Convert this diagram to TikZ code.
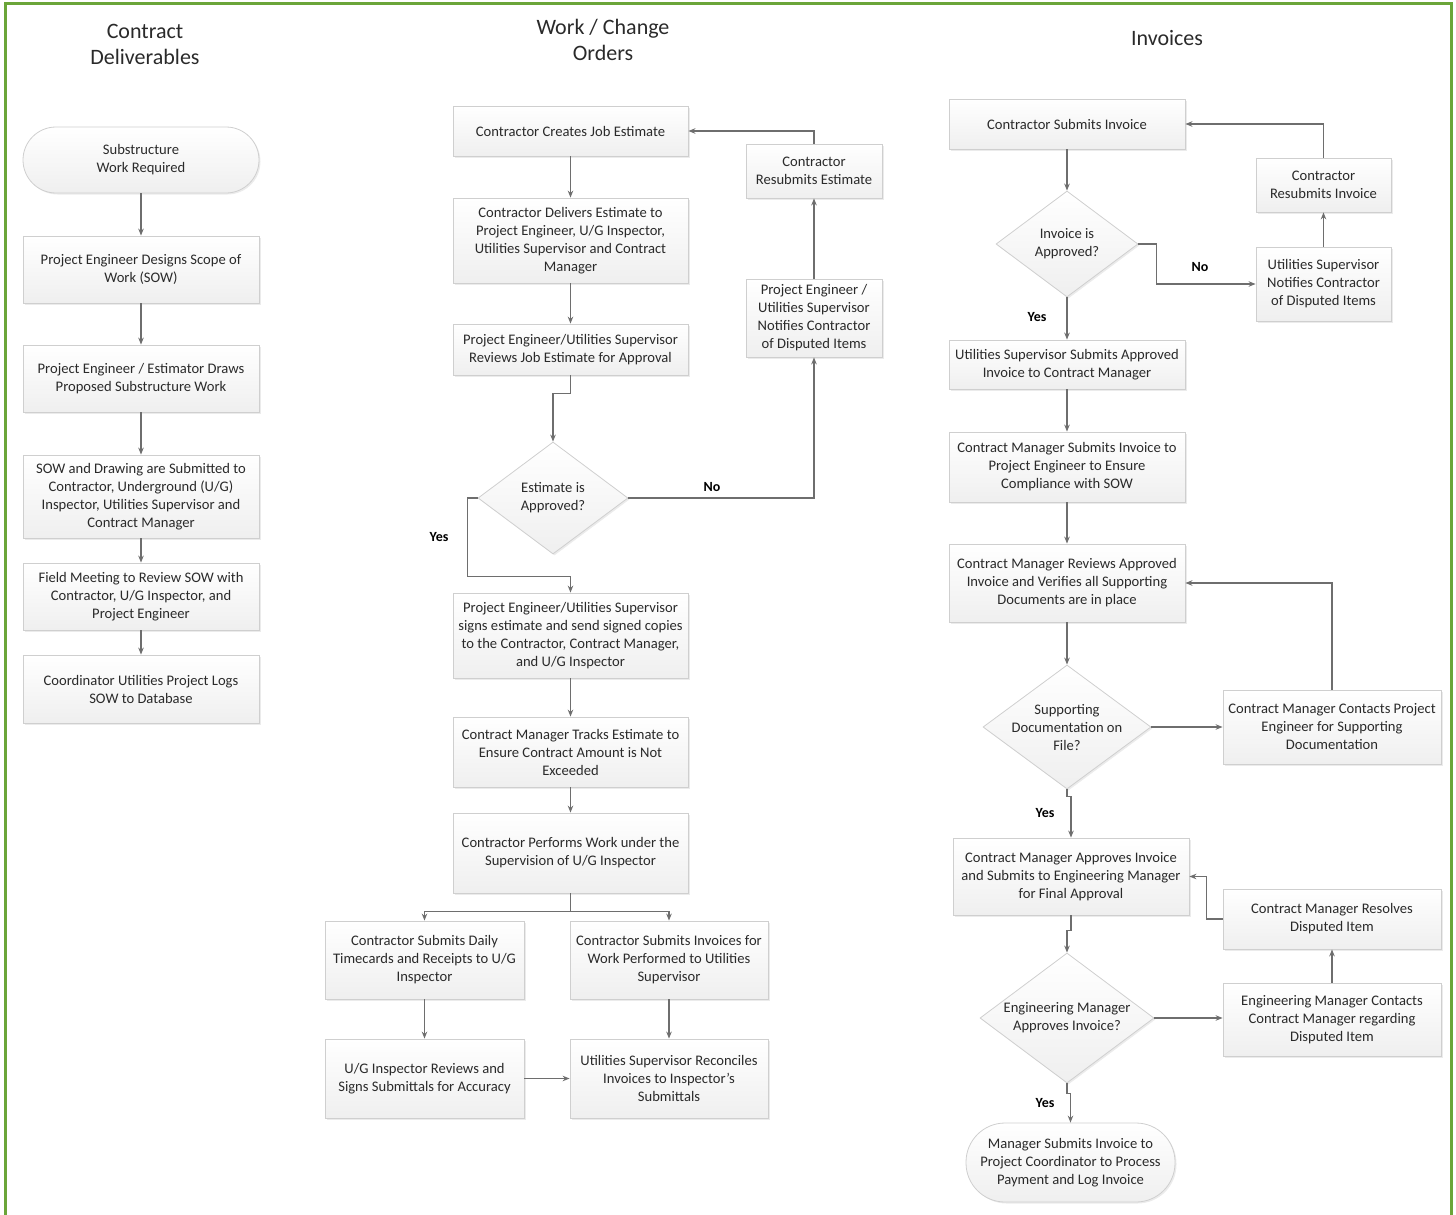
\documentclass[tikz,border=0pt]{standalone}
\usepackage{fontspec}
\setmainfont{Carlito}
\usetikzlibrary{arrows.meta,shapes.geometric,shadows,calc}
\definecolor{boxline}{HTML}{CFCFCF}
\definecolor{boxfill}{HTML}{EFEFEF}
\definecolor{conn}{HTML}{6E6E6E}
\definecolor{txt}{HTML}{2A2A2A}
\definecolor{framegreen}{HTML}{6BA539}
\tikzset{
  base/.style={draw=boxline, line width=0.8pt, top color=white, bottom color=boxfill,
    text=txt, align=center, font=\fontsize{14.6}{18}\selectfont, inner sep=2pt,
    drop shadow={opacity=0.16, shadow xshift=1.5pt, shadow yshift=-1.5pt}},
  procbox/.style={base, rectangle},
  pill/.style={base, rectangle, rounded corners=#1},
  decision/.style={base, diamond, inner sep=0pt},
  dtext/.style={text=txt, align=center, font=\fontsize{14.6}{18}\selectfont},
  title/.style={text=txt, align=center, font=\fontsize{22}{26}\selectfont},
  lbl/.style={text=black, font=\bfseries\fontsize{14}{16}\selectfont},
  arr/.style={draw=conn, line width=1.3pt, -{Stealth[length=7pt,width=5.5pt]}},
  ln/.style={draw=conn, line width=1.3pt},
  frameline/.style={draw=framegreen, line width=3pt},
}
\begin{document}
\begin{tikzpicture}[x=1pt,y=-1pt]
\useasboundingbox (0,0) rectangle (1456,1215);
\draw[frameline] (5,1216) -- (5,4) -- (1451,4) -- (1451,1216);

% titles
\node[title] (t1) at (145,44) {Contract\\Deliverables};
\node[title] (t2) at (603,40) {Work / Change\\Orders};
\node[title] (t3) at (1167,38) {Invoices};

% ---------- column 1 ----------
\node[pill=33pt, minimum width=236pt, minimum height=66pt] (s0) at (141,160) {Substructure\\Work Required};
\node[procbox, minimum width=236pt, minimum height=67pt] (a1) at (141,269.5) {Project Engineer Designs Scope of\\Work (SOW)};
\node[procbox, minimum width=236pt, minimum height=67pt] (a2) at (141,378.5) {Project Engineer / Estimator Draws\\Proposed Substructure Work};
\node[procbox, minimum width=236pt, minimum height=83pt] (a3) at (141,496.5) {SOW and Drawing are Submitted to\\Contractor, Underground (U/G)\\Inspector, Utilities Supervisor and\\Contract Manager};
\node[procbox, minimum width=236pt, minimum height=67pt] (a4) at (141,596.5) {Field Meeting to Review SOW with\\Contractor, U/G Inspector, and\\Project Engineer};
\node[procbox, minimum width=236pt, minimum height=68pt] (a5) at (141,689) {Coordinator Utilities Project Logs\\SOW to Database};
\draw[arr] (s0) -- (a1);
\draw[arr] (a1) -- (a2);
\draw[arr] (a2) -- (a3);
\draw[arr] (a3) -- (a4);
\draw[arr] (a4) -- (a5);

% ---------- column 2 ----------
\node[procbox, minimum width=235pt, minimum height=50pt] (c1) at (570.5,131) {Contractor Creates Job Estimate};
\node[procbox, minimum width=235pt, minimum height=85pt] (c2) at (570.5,240.5) {Contractor Delivers Estimate to\\Project Engineer, U/G Inspector,\\Utilities Supervisor and Contract\\Manager};
\node[procbox, minimum width=235pt, minimum height=51pt] (c3) at (570.5,349.5) {Project Engineer/Utilities Supervisor\\Reviews Job Estimate for Approval};
\node[decision, minimum width=150pt, minimum height=112pt] (d1) at (553,498) {};
\node[dtext] (d1t) at (d1.center) {Estimate is\\Approved?};
\node[procbox, minimum width=136pt, minimum height=54pt] (rs) at (814,171) {Contractor\\Resubmits Estimate};
\node[procbox, minimum width=136pt, minimum height=78pt] (pn) at (814,318) {Project Engineer /\\Utilities Supervisor\\Notifies Contractor\\of Disputed Items};
\node[procbox, minimum width=235pt, minimum height=85pt] (c4) at (570.5,635.5) {Project Engineer/Utilities Supervisor\\signs estimate and send signed copies\\to the Contractor, Contract Manager,\\and U/G Inspector};
\node[procbox, minimum width=235pt, minimum height=70pt] (c5) at (570.5,752) {Contract Manager Tracks Estimate to\\Ensure Contract Amount is Not\\Exceeded};
\node[procbox, minimum width=235pt, minimum height=80pt] (c6) at (570.5,853) {Contractor Performs Work under the\\Supervision of U/G Inspector};
\node[procbox, minimum width=199pt, minimum height=78pt] (c7) at (424.5,960) {Contractor Submits Daily\\Timecards and Receipts to U/G\\Inspector};
\node[procbox, minimum width=198pt, minimum height=78pt] (c8) at (669,960) {Contractor Submits Invoices for\\Work Performed to Utilities\\Supervisor};
\node[procbox, minimum width=199pt, minimum height=79pt] (c9) at (424.5,1078.5) {U/G Inspector Reviews and\\Signs Submittals for Accuracy};
\node[procbox, minimum width=198pt, minimum height=79pt] (c10) at (669,1078.5) {Utilities Supervisor Reconciles\\Invoices to Inspector’s\\Submittals};

\draw[arr] (c1) -- (c2);
\draw[arr] (c2) -- (c3);
\draw[arr] (c3.south) -- ++(0,18) -| (d1.north);
\draw[arr] (d1.east) -| (pn.south);
\node[lbl] (no1) at (712,487) {No};
\draw[arr] (pn.north) -- (rs.south);
\draw[arr] (rs.north) |- (c1.east);
\draw[arr] (d1.west) -- ++(-10,0) |- ([yshift=16pt]c4.north) -- (c4.north);
\node[lbl] (yes1) at (439,537) {Yes};
\draw[arr] (c4) -- (c5);
\draw[arr] (c5) -- (c6);
\coordinate (split) at ($(c6.south)+(0,18)$);
\draw[ln] (c6.south) -- (split);
\draw[arr] (split) -| (c7.north);
\draw[arr] (split) -| (c8.north);
\draw[arr] (c7) -- (c9);
\draw[arr] (c8) -- (c10);
\draw[arr] (c9) -- (c10);

% ---------- column 3 ----------
\node[procbox, minimum width=236pt, minimum height=50pt] (i1) at (1067,124) {Contractor Submits Invoice};
\node[decision, minimum width=142pt, minimum height=106pt] (d2) at (1067,244) {};
\node[dtext] (d2t) at (d2.center) {Invoice is\\Approved?};
\node[procbox, minimum width=135pt, minimum height=74pt] (inot) at (1323.5,284) {Utilities Supervisor\\Notifies Contractor\\of Disputed Items};
\node[procbox, minimum width=135pt, minimum height=54pt] (ires) at (1323.5,185) {Contractor\\Resubmits Invoice};
\node[procbox, minimum width=236pt, minimum height=49pt] (i2) at (1067,364.5) {Utilities Supervisor Submits Approved\\Invoice to Contract Manager};
\node[procbox, minimum width=236pt, minimum height=70pt] (i3) at (1067,467) {Contract Manager Submits Invoice to\\Project Engineer to Ensure\\Compliance with SOW};
\node[procbox, minimum width=236pt, minimum height=78pt] (i4) at (1067,583) {Contract Manager Reviews Approved\\Invoice and Verifies all Supporting\\Documents are in place};
\node[decision, minimum width=168pt, minimum height=124pt] (d3) at (1067,727) {};
\node[dtext] (d3t) at (d3.center) {Supporting\\Documentation on\\File?};
\node[procbox, minimum width=218pt, minimum height=74pt] (icon) at (1332,727) {Contract Manager Contacts Project\\Engineer for Supporting\\Documentation};
\node[procbox, minimum width=236pt, minimum height=77pt] (i5) at (1071,876.5) {Contract Manager Approves Invoice\\and Submits to Engineering Manager\\for Final Approval};
\node[procbox, minimum width=218pt, minimum height=60pt] (irsv) at (1332,919) {Contract Manager Resolves\\Disputed Item};
\node[decision, minimum width=174pt, minimum height=130pt] (d4) at (1067,1018) {};
\node[dtext] (d4t) at (d4.center) {Engineering Manager\\Approves Invoice?};
\node[procbox, minimum width=218pt, minimum height=73pt] (ieng) at (1332,1019.5) {Engineering Manager Contacts\\Contract Manager regarding\\Disputed Item};
\node[pill=39pt, minimum width=209pt, minimum height=79pt] (iend) at (1070.5,1162.5) {Manager Submits Invoice to\\Project Coordinator to Process\\Payment and Log Invoice};

\draw[arr] (i1) -- (d2);
\draw[arr] (d2.east) -- ++(18,0) |- (inot.west);
\node[lbl] (no2) at (1200,267) {No};
\draw[arr] (inot) -- (ires);
\draw[arr] (ires.north) |- (i1.east);
\draw[arr] (d2.south) -- (i2.north);
\node[lbl] (yes2) at (1037,317) {Yes};
\draw[arr] (i2) -- (i3);
\draw[arr] (i3) -- (i4);
\draw[arr] (i4.south) -- (d3.north);
\draw[arr] (d3.east) -- (d3.east -| icon.west);
\draw[arr] (icon.north) |- (i4.east);
\draw[arr] (d3.south) -- ++(0,7) -| (i5.north);
\node[lbl] (yes3) at (1045,813) {Yes};
\draw[arr] (i5.south) -- ++(0,15) -| (d4.north);
\draw[arr] (d4.east) -- (d4.east -| ieng.west);
\draw[arr] (ieng) -- (irsv);
\draw[arr] (irsv.west) -- ++(-16,0) |- (i5.east);
\draw[arr] (d4.south) -- ++(0,10) -| (iend.north);
\node[lbl] (yes4) at (1045,1103) {Yes};
\end{tikzpicture}
\end{document}
